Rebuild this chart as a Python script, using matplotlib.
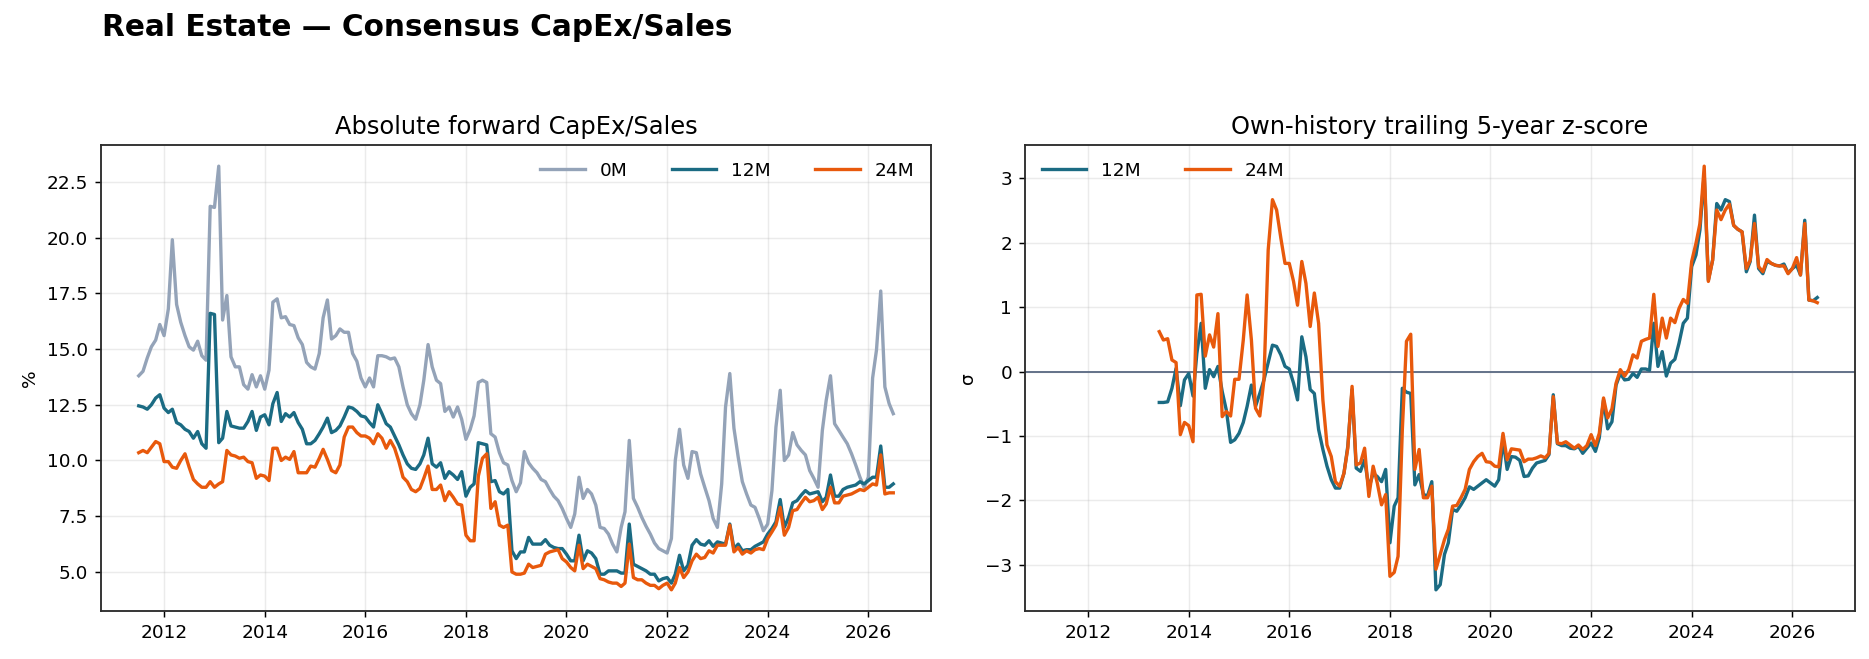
import matplotlib
matplotlib.use("Agg")
import matplotlib.dates as mdates
import matplotlib.pyplot as plt
import numpy as np
import pandas as pd

# Monthly consensus CapEx/Sales levels (%), Jul 2011 - Jul 2026
START = "2011-07-01"

LEVEL_0M = [
    13.8, 14.0, 14.6, 15.1, 15.4, 16.1, 15.6, 16.8, 19.9, 17.0,
    16.2, 15.6, 15.1, 14.95, 15.35, 14.7, 14.5, 21.4, 21.35, 23.2,
    16.3, 17.4, 14.65, 14.2, 14.2, 13.4, 13.2, 13.85, 13.3, 13.8,
    13.2, 14.05, 17.1, 17.25, 16.4, 16.45, 16.1, 16.05, 15.5, 15.2,
    14.4, 14.2, 14.1, 14.8, 16.4, 17.2, 15.45, 15.6, 15.9, 15.75,
    15.75, 14.8, 14.45, 13.7, 13.3, 13.7, 13.3, 14.7, 14.7, 14.65,
    14.55, 14.6, 14.2, 13.3, 12.5, 12.1, 11.85, 12.5, 13.6, 15.2,
    14.2, 13.6, 13.45, 12.2, 12.4, 11.95, 12.4, 11.85, 10.95, 11.4,
    12.0, 13.5, 13.6, 13.5, 11.2, 11.05, 10.35, 9.9, 9.8, 9.1,
    8.6, 9.0, 10.4, 9.9, 9.65, 9.45, 9.15, 9.05, 8.7, 8.4,
    8.2, 7.85, 7.4, 7.0, 7.6, 9.25, 8.3, 8.7, 8.5, 8.0,
    7.0, 6.95, 6.7, 6.25, 5.9, 7.0, 7.7, 10.9, 8.3, 7.9,
    7.45, 7.05, 6.7, 6.3, 6.05, 5.95, 5.85, 6.5, 10.0, 11.4,
    9.8, 9.2, 10.4, 10.35, 9.4, 8.8, 8.2, 7.4, 7.0, 8.95,
    12.4, 13.9, 11.45, 10.15, 9.05, 8.5, 8.0, 7.9, 7.4, 6.85,
    7.15, 8.65, 11.5, 13.15, 10.0, 10.25, 11.25, 10.7, 10.45, 10.25,
    9.55, 9.2, 8.8, 11.35, 12.7, 13.8, 11.65, 11.35, 11.05, 10.75,
    10.3, 9.8, 9.25, 8.8, 9.25, 13.7, 14.95, 17.6, 13.3, 12.55, 12.1,
]

LEVEL_12M = [
    12.45, 12.4, 12.3, 12.5, 12.8, 12.95, 12.35, 12.15, 12.3, 11.7,
    11.6, 11.4, 11.3, 11.0, 11.3, 10.75, 10.55, 16.6, 16.55, 10.8,
    11.0, 12.2, 11.55, 11.5, 11.45, 11.45, 11.75, 12.2, 11.35, 11.95,
    12.05, 11.6, 12.55, 13.05, 11.75, 12.1, 11.95, 12.15, 11.7, 11.4,
    10.75, 10.75, 10.9, 11.2, 11.5, 11.9, 11.25, 11.35, 11.55, 11.95,
    12.4, 12.35, 12.2, 12.0, 11.95, 11.7, 11.5, 12.5, 12.1, 11.65,
    11.5, 11.1, 10.7, 10.25, 9.85, 9.65, 9.6, 9.85, 10.25, 11.0,
    9.85, 9.7, 9.9, 9.2, 9.5, 9.35, 9.15, 9.5, 8.4, 8.8,
    8.95, 10.8, 10.75, 10.7, 9.05, 9.1, 8.6, 8.5, 8.7, 5.95,
    5.6, 5.9, 5.9, 6.55, 6.25, 6.25, 6.25, 6.45, 6.2, 6.1,
    6.05, 6.05, 5.8, 5.5, 5.5, 6.65, 5.5, 5.95, 5.85, 5.6,
    4.9, 4.9, 5.05, 5.05, 5.05, 4.95, 4.95, 7.15, 5.35, 5.25,
    5.15, 5.05, 4.9, 4.9, 4.6, 4.7, 4.75, 4.5, 4.9, 5.75,
    5.05, 5.3, 6.2, 6.45, 6.25, 6.2, 6.4, 6.15, 6.35, 6.3,
    6.25, 7.15, 6.05, 6.25, 5.95, 6.0, 6.0, 6.15, 6.25, 6.35,
    6.7, 6.95, 7.25, 8.25, 7.0, 7.45, 8.1, 8.2, 8.45, 8.65,
    8.5, 8.55, 8.6, 8.15, 8.35, 9.35, 8.4, 8.4, 8.7, 8.8,
    8.85, 8.9, 9.05, 8.95, 9.1, 9.25, 9.25, 10.65, 8.8, 8.8, 8.95,
]

LEVEL_24M = [
    10.35, 10.45, 10.35, 10.6, 10.85, 10.75, 9.95, 9.95, 9.7, 9.65,
    10.0, 10.3, 9.7, 9.15, 8.95, 8.8, 8.8, 9.05, 8.8, 8.95,
    9.05, 10.45, 10.25, 10.2, 10.1, 10.15, 9.95, 9.9, 9.2, 9.35,
    9.3, 9.1, 10.55, 10.55, 10.0, 10.15, 10.05, 10.4, 9.45, 9.45,
    9.45, 9.75, 9.7, 10.1, 10.5, 10.05, 9.55, 9.45, 9.8, 11.05,
    11.5, 11.5, 11.25, 11.1, 11.1, 11.0, 10.75, 11.2, 11.0, 10.55,
    10.9, 10.55, 9.95, 9.25, 9.05, 8.7, 8.6, 8.75, 9.2, 9.75,
    8.7, 8.7, 8.9, 8.2, 8.6, 8.35, 8.05, 8.0, 6.65, 6.4,
    6.4, 9.3, 10.1, 10.3, 7.85, 8.15, 7.1, 7.0, 7.1, 5.0,
    4.9, 4.9, 4.95, 5.35, 5.2, 5.25, 5.3, 5.8, 5.9, 5.95,
    6.0, 5.6, 5.45, 5.2, 5.05, 6.2, 5.15, 5.35, 5.25, 5.15,
    4.7, 4.65, 4.55, 4.5, 4.5, 4.35, 4.5, 6.25, 4.75, 4.65,
    4.65, 4.5, 4.4, 4.4, 4.25, 4.4, 4.5, 4.2, 4.5, 5.2,
    4.75, 5.0, 5.5, 5.8, 5.6, 5.65, 5.95, 5.85, 6.2, 6.2,
    6.2, 7.1, 5.9, 6.1, 5.8, 5.95, 5.85, 6.0, 6.05, 6.0,
    6.5, 6.8, 7.1, 7.9, 6.65, 7.0, 7.75, 7.8, 8.1, 8.35,
    8.15, 8.2, 8.35, 7.8, 8.05, 8.8, 8.1, 8.1, 8.4, 8.45,
    8.5, 8.6, 8.7, 8.65, 8.8, 8.95, 8.9, 10.25, 8.5, 8.55, 8.55,
]

# Trailing 5-year z-scores, Jun 2013 - Jul 2026
Z_START = "2013-06-01"

Z_12M = [
    -0.48, -0.48, -0.47, -0.26, 0.05, -0.53, -0.13,
    -0.03, -0.38, 0.28, 0.75, -0.26, 0.03, -0.08, 0.08, -0.31, -0.6,
    -1.1, -1.06, -0.96, -0.79, -0.54, -0.21, -0.54, -0.34, -0.13, 0.14,
    0.41, 0.39, 0.26, 0.08, 0.04, -0.18, -0.44, 0.54, 0.23, -0.28,
    -0.34, -0.9, -1.21, -1.47, -1.68, -1.81, -1.81, -1.58, -1.16, -0.28,
    -1.5, -1.55, -1.37, -1.81, -1.58, -1.63, -1.71, -1.52, -2.66, -2.09,
    -1.96, -0.26, -0.32, -0.34, -1.76, -1.6, -1.91, -1.93, -1.71, -3.39,
    -3.31, -2.84, -2.66, -2.14, -2.17, -2.07, -1.96, -1.79, -1.83, -1.78,
    -1.73, -1.68, -1.73, -1.78, -1.68, -1.06, -1.52, -1.32, -1.33, -1.38,
    -1.63, -1.62, -1.5, -1.42, -1.4, -1.38, -1.29, -0.36, -1.12, -1.15,
    -1.15, -1.19, -1.2, -1.16, -1.27, -1.19, -1.11, -1.24, -1.03, -0.44,
    -0.89, -0.78, -0.21, -0.03, -0.13, -0.12, -0.03, -0.09, 0.04, 0.04,
    0.02, 0.75, 0.08, 0.31, -0.07, 0.13, 0.19, 0.44, 0.75, 0.83,
    1.63, 1.81, 2.2, 3.07, 1.42, 1.73, 2.61, 2.51, 2.67, 2.64,
    2.27, 2.21, 2.17, 1.55, 1.71, 2.43, 1.6, 1.52, 1.71, 1.68,
    1.65, 1.64, 1.67, 1.53, 1.6, 1.65, 1.5, 2.35, 1.11, 1.1, 1.15,
]

Z_24M = [
    0.62, 0.49, 0.51, 0.18, 0.14, -0.98, -0.79,
    -0.84, -1.09, 1.19, 1.2, 0.24, 0.57, 0.38, 0.9, -0.7, -0.62,
    -0.69, -0.12, -0.12, 0.49, 1.19, 0.49, -0.57, -0.69, -0.13, 1.89,
    2.67, 2.51, 2.07, 1.68, 1.68, 1.4, 1.03, 1.71, 1.37, 0.7,
    1.22, 0.75, -0.44, -1.14, -1.32, -1.71, -1.78, -1.58, -1.19, -0.23,
    -1.45, -1.42, -1.19, -1.94, -1.47, -1.73, -2.07, -1.91, -3.18, -3.12,
    -2.87, -0.9, 0.47, 0.58, -1.52, -1.21, -1.96, -1.96, -1.78, -3.07,
    -2.84, -2.61, -2.45, -2.09, -2.08, -1.96, -1.83, -1.52, -1.4, -1.32,
    -1.27, -1.4, -1.41, -1.47, -1.48, -0.96, -1.37, -1.2, -1.21, -1.22,
    -1.4, -1.36, -1.36, -1.34, -1.31, -1.34, -1.27, -0.39, -1.11, -1.12,
    -1.09, -1.14, -1.19, -1.14, -1.21, -1.15, -0.98, -1.15, -0.96, -0.41,
    -0.72, -0.58, -0.18, 0.03, -0.07, 0.03, 0.26, 0.21, 0.47, 0.5,
    0.52, 1.2, 0.39, 0.83, 0.52, 0.83, 0.76, 0.98, 1.12, 1.06,
    1.71, 1.99, 2.3, 3.19, 1.4, 1.73, 2.51, 2.36, 2.51, 2.6,
    2.27, 2.21, 2.17, 1.6, 1.73, 2.3, 1.63, 1.55, 1.74, 1.68,
    1.65, 1.64, 1.64, 1.52, 1.6, 1.77, 1.5, 2.3, 1.11, 1.1, 1.07,
]

COLORS = {"0M": "#94a3b8", "12M": "#1b6b83", "24M": "#e8590c"}
ZERO_COLOR = "#5c6b84"


def style_axes(ax):
    ax.grid(alpha=0.25)
    ax.xaxis.set_major_locator(mdates.YearLocator(2))
    ax.xaxis.set_major_formatter(mdates.DateFormatter("%Y"))
    for sp in ax.spines.values():
        sp.set_color("#2b2b2b")
        sp.set_linewidth(1.0)


def main():
    dates = pd.date_range(START, periods=len(LEVEL_0M), freq="MS")
    zdates = pd.date_range(Z_START, periods=len(Z_12M), freq="MS")

    fig = plt.figure(figsize=(14.0, 659 / 133.5), dpi=133.5)
    ax1 = fig.add_axes([101 / 1869, 48 / 659, 830 / 1869, 466 / 659])
    ax2 = fig.add_axes([1025 / 1869, 48 / 659, 830 / 1869, 466 / 659],
                       sharex=ax1)

    lw = 1.8
    ax1.plot(dates, LEVEL_0M, color=COLORS["0M"], lw=lw, label="0M")
    ax1.plot(dates, LEVEL_12M, color=COLORS["12M"], lw=lw, label="12M")
    ax1.plot(dates, LEVEL_24M, color=COLORS["24M"], lw=lw, label="24M")
    ax1.set_title("Absolute forward CapEx/Sales", fontsize=13)
    ax1.set_ylabel("%")
    ax1.legend(loc="upper right", ncol=3, frameon=False, fontsize=10,
               handlelength=2.4, columnspacing=2.4)
    style_axes(ax1)

    ax2.axhline(0, color=ZERO_COLOR, lw=1.0)
    ax2.plot(zdates, Z_12M, color=COLORS["12M"], lw=lw, label="12M")
    ax2.plot(zdates, Z_24M, color=COLORS["24M"], lw=lw, label="24M")
    ax2.set_title("Own-history trailing 5-year z-score", fontsize=13)
    ax2.set_ylabel("σ")
    ax2.legend(loc="upper left", ncol=2, frameon=False, fontsize=10,
               handlelength=2.4, columnspacing=2.4)
    style_axes(ax2)
    ax2.tick_params(labelbottom=True)

    fig.text(102 / 1869, 1 - 28 / 659, "Real Estate — Consensus CapEx/Sales",
             fontsize=16, fontweight="bold", ha="left", va="center")

    fig.savefig("out.png", dpi=133.5)
    plt.close(fig)


if __name__ == "__main__":
    main()
